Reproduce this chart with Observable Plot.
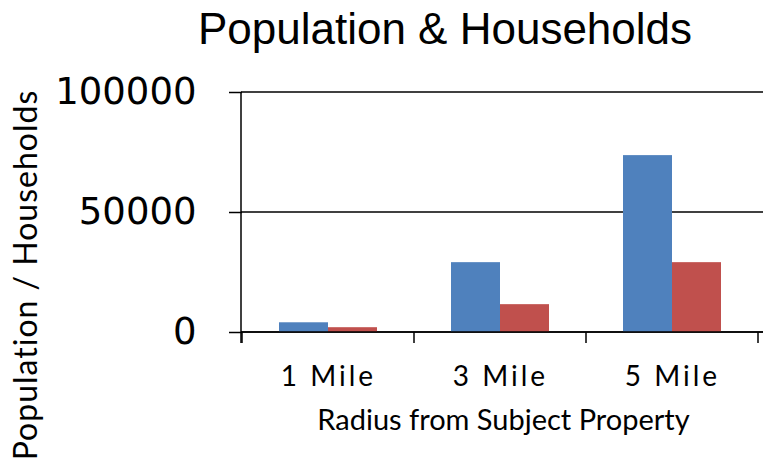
<!DOCTYPE html>
<html>
<head>
<meta charset="utf-8">
<script src="https://cdn.jsdelivr.net/npm/d3@7"></script>
<script src="https://cdn.jsdelivr.net/npm/@observablehq/plot@0.6"></script>
<style>
  html, body { margin: 0; padding: 0; background: #fff; }
  #wrap { position: relative; width: 763px; height: 463px; overflow: hidden; background: #fff; }
  #title { position: absolute; left: 0; top: 7px; width: 890px; text-align: center;
           font-family: "Liberation Sans", Arial, sans-serif; font-size: 44px; line-height: 44px; color: #000; }
  #chart { position: absolute; left: 0; top: 60px; }
</style>
</head>
<body>
<div id="wrap">
  <div id="title">Population &amp; Households</div>
  <div id="chart"></div>
</div>
<script>
const categories = ["1 Mile", "3 Mile", "5 Mile"];
const seriesNames = ["Population", "Households"];
const population = [4050, 29100, 73700];
const households = [2000, 11600, 29100];
const yTicks = [0, 50000, 100000];
const colors = ["#4F81BD", "#C0504D"];
const xTitle = "Radius from Subject Property";
const yTitle = "Population / Households";

const data = categories.flatMap((c, i) => [
  {radius: c, series: seriesNames[0], value: population[i]},
  {radius: c, series: seriesNames[1], value: households[i]}
]);

const labelFont = "Lato, 'DejaVu Sans', sans-serif";

const plot = Plot.plot({
  width: 763,
  height: 403,
  marginTop: 32,
  marginBottom: 131,
  marginLeft: 241,
  marginRight: 5,
  style: {background: "transparent", overflow: "visible", color: "#000"},
  fx: {domain: categories, paddingInner: 0, paddingOuter: 0, label: null, axis: null},
  x: {domain: seriesNames, paddingInner: 0, paddingOuter: 0.744, axis: null},
  y: {domain: [0, 100000], axis: null},
  color: {domain: seriesNames, range: colors},
  marks: [
    Plot.barY(data, {fx: "radius", x: "series", y: "value", fill: "series"}),
    Plot.axisY(yTicks, {anchor: "left", tickSize: 13, tickPadding: 33, strokeWidth: 1.5, label: null,
      tickFormat: d => String(d), fontSize: 37, fontFamily: "'DejaVu Sans', sans-serif", fill: "#000"}),
    Plot.axisFx({anchor: "bottom", tickSize: 0, tickPadding: 34, label: null,
      fontSize: 28, fontFamily: labelFont, fill: "#000", style: {letterSpacing: "3px"}})
  ]
});

document.getElementById("chart").appendChild(plot);

const svg = d3.select(plot);
const y = plot.scale("y");
const fx = plot.scale("fx");
const left = fx.range[0];
const right = 763;
const y0 = y.apply(0);

// gridlines behind the bars
const grid = svg.insert("g", "g").attr("stroke", "#000").attr("stroke-width", 1.5);
yTicks.forEach(t => {
  grid.append("line").attr("x1", left).attr("x2", right).attr("y1", y.apply(t)).attr("y2", y.apply(t));
});

// axis lines and category boundary ticks on top
const axes = svg.append("g").attr("stroke", "#000").attr("stroke-width", 1.5);
axes.append("line").attr("x1", left).attr("x2", right).attr("y1", y0).attr("y2", y0);
axes.append("line").attr("x1", left).attr("x2", left).attr("y1", y.apply(100000)).attr("y2", y0 + 11);
const bounds = categories.map(c => fx.apply(c)).concat([fx.apply(categories[categories.length - 1]) + fx.bandwidth]);
bounds.forEach(b => {
  axes.append("line").attr("x1", b).attr("x2", b).attr("y1", y0).attr("y2", y0 + 11);
});

// category labels letter spacing
svg.selectAll("[aria-label='fx-axis tick label'] text").style("letter-spacing", "3px");

// axis titles
svg.append("text")
  .attr("x", (fx.range[0] + fx.range[1]) / 2 + 4)
  .attr("y", y0 + 98)
  .attr("text-anchor", "middle")
  .attr("font-family", labelFont)
  .attr("font-size", 29)
  .attr("fill", "#000")
  .text(xTitle);

svg.append("text")
  .attr("transform", `translate(37,${(y.apply(0) + y.apply(100000)) / 2 + 63}) rotate(-90)`)
  .attr("text-anchor", "middle")
  .attr("font-family", labelFont)
  .attr("font-size", 32)
  .style("letter-spacing", "1px")
  .attr("fill", "#000")
  .text(yTitle);
</script>
</body>
</html>
